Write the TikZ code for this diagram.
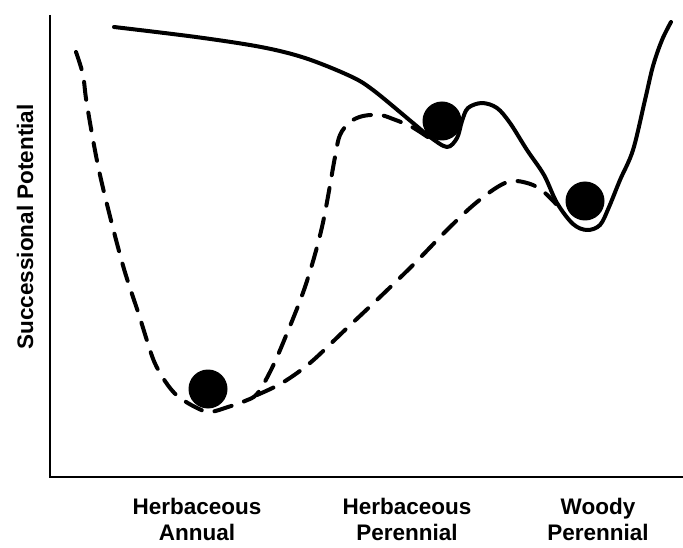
\documentclass[tikz,border=0pt]{standalone}
\usepackage{fontspec}
\setmainfont{Liberation Sans}
\begin{document}
\begin{tikzpicture}[x=1pt,y=-1pt,
  axis/.style={line width=2.2pt},
  ridge/.style={line width=4pt, line cap=round, line join=round},
  trail/.style={line width=4pt, line cap=round, line join=round, dash pattern=on 18pt off 13pt},
  ball/.style={circle, fill=black, minimum size=39pt, inner sep=0pt},
  txt/.style={font=\bfseries\fontsize{22.5}{26}\selectfont, inner sep=0pt},
  cat/.style={txt, align=center, anchor=north}]
\useasboundingbox (0,0) rectangle (683,548);

% axes
\coordinate (top) at (50,15);
\coordinate (origin) at (50,477);
\coordinate (xend) at (683,477);
\draw[axis] (top) -- (origin) -- (xend);

% upper landscape (solid)
\draw[ridge] plot[smooth, tension=0.55] coordinates {
  (114,27) (196,37) (261,47) (305,58) (350,76) (373,90) (413,123) (430,137)
  (447,147) (457,138) (462,121) (468,108) (482,103) (497,108) (510,123)
  (527,150) (544,175) (557,203) (573,224) (587,230) (600,225) (609,207)
  (620,180) (633,150) (645,100) (653,66) (662,40) (671,22)};

% lower landscape: steep branch towards the middle basin
\draw[trail] plot[smooth, tension=0.55] coordinates {
  (76,52) (83,75) (87,105) (100,175) (122,262) (139,315) (152,356) (160,373)
  (170,388) (180,398) (197,408) (210,412) (228,407) (245,401) (257,394)
  (270,372) (283,343) (305,287) (322,227) (335,157) (340,135) (350,122)
  (363,116) (380,115) (393,119) (412,127) (432,140)};

% lower landscape: gentle branch towards the right basin
\draw[trail] plot[smooth, tension=0.55] coordinates {
  (257,395) (282,383) (310,363) (345,330) (380,297) (414,264) (445,232)
  (470,208) (490,192) (505,183) (517,181) (533,185) (545,193) (556,204)};

% balls
\node[ball] (annual) at (208,389) {};
\node[ball] (herb) at (442,121) {};
\node[ball] (woody) at (585,201) {};

% labels
\node[txt, rotate=90, anchor=base] (ylab) at (33,227) {Successional Potential};
\node[cat] (l1) at (197,498) {Herbaceous\\Annual};
\node[cat] (l2) at (407,498) {Herbaceous\\Perennial};
\node[cat] (l3) at (598,498) {Woody\\Perennial};
\end{tikzpicture}
\end{document}
